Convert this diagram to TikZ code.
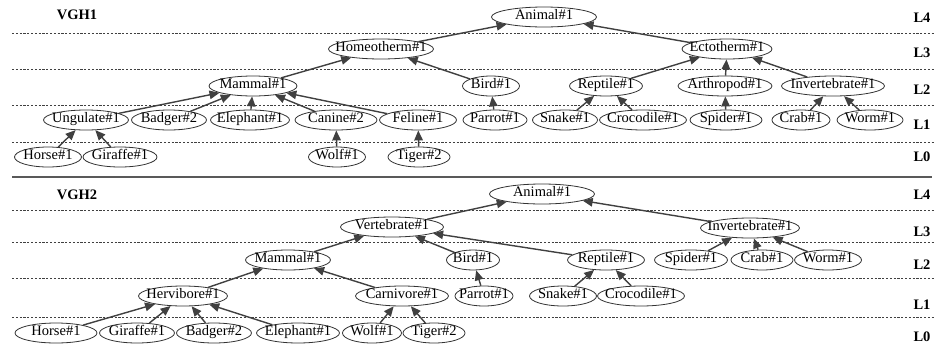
\documentclass[tikz,border=0pt]{standalone}
\usepackage{fontspec}
\setmainfont{Liberation Serif}
\usetikzlibrary{shapes.geometric,arrows.meta}

\tikzset{
  tax/.style={ellipse, draw=black!80, line width=.8pt, fill=white, inner xsep=-15pt, inner ysep=0pt,
    minimum height=20pt, text height=.68em, text depth=.18em, font=\fontsize{14.5}{17}\selectfont},
  isa/.style={draw=black!75, line width=1.4pt, -{Triangle[length=10pt,width=8.5pt]}},
  lvl/.style={font=\fontsize{14.5}{17}\selectfont\bfseries},
  lvlline/.style={draw=black!75, line width=.8pt, dash pattern=on 2.2pt off 1.6pt},
}

\begin{document}
\begin{tikzpicture}[x=1pt,y=-1pt]
\useasboundingbox (0,0) rectangle (935,346);
% level lines and names
\foreach \y in {33,69,105,142,210,242,278,317} \draw[lvlline] (12,\y) -- (935,\y);
\draw[black!65, line width=2pt] (12,177) -- (932,177);
\foreach \y/\t [count=\i] in {18/L4,53/L3,90/L2,125/L1,157/L0,195/L4,232/L3,265/L2,305/L1,337/L0}
  \node[lvl] (lab\i) at (922,\y) {\t};
\node[lvl] (vgha) at (77,15) {VGH1};
\node[lvl] (vghb) at (77,195) {VGH2};

% VGH1
\node[tax, minimum width=105pt] (aanimal) at (544,17) {Animal\#1};
\node[tax, minimum width=105pt] (ahomeo) at (381,49) {Homeotherm\#1};
\node[tax, minimum width=90pt] (aecto) at (727,49) {Ectotherm\#1};
\node[tax, minimum width=88pt] (amammal) at (253,86) {Mammal\#1};
\node[tax, minimum width=57pt] (abird) at (491,86) {Bird\#1};
\node[tax, minimum width=73pt] (areptile) at (606,86) {Reptile\#1};
\node[tax, minimum width=94pt] (aarthro) at (725,86) {Arthropod\#1};
\node[tax, minimum width=103pt] (ainvert) at (833,86) {Invertebrate\#1};
\node[tax, minimum width=85pt] (aungul) at (86,120) {Ungulate\#1};
\node[tax, minimum width=75pt] (abadger) at (169,120) {Badger\#2};
\node[tax, minimum width=79pt] (aeleph) at (250,120) {Elephant\#1};
\node[tax, minimum width=82pt] (acanine) at (336,120) {Canine\#2};
\node[tax, minimum width=77pt] (afeline) at (418,120) {Feline\#1};
\node[tax, minimum width=64pt] (aparrot) at (495,120) {Parrot\#1};
\node[tax, minimum width=65pt] (asnake) at (565,120) {Snake\#1};
\node[tax, minimum width=87pt] (acroc) at (643,120) {Crocodile\#1};
\node[tax, minimum width=72pt] (aspider) at (726,120) {Spider\#1};
\node[tax, minimum width=58pt] (acrab) at (801,120) {Crab\#1};
\node[tax, minimum width=66pt] (aworm) at (870,120) {Worm\#1};
\node[tax, minimum width=67pt] (ahorse) at (48,157) {Horse\#1};
\node[tax, minimum width=74pt] (agiraffe) at (120,157) {Giraffe\#1};
\node[tax, minimum width=57pt] (awolf) at (337,157) {Wolf\#1};
\node[tax, minimum width=62pt] (atiger) at (419,157) {Tiger\#2};

\foreach \c/\p in {ahorse/aungul,agiraffe/aungul,aungul/amammal,abadger/amammal,aeleph/amammal,
  acanine/amammal,afeline/amammal,awolf/acanine,atiger/afeline,amammal/ahomeo,abird/ahomeo,
  aparrot/abird,ahomeo/aanimal,asnake/areptile,acroc/areptile,areptile/aecto,aspider/aarthro,
  aarthro/aecto,acrab/ainvert,aworm/ainvert,ainvert/aecto,aecto/aanimal}
  \draw[isa] (\c) -- (\p);

% VGH2
\node[tax, minimum width=105pt] (banimal) at (542,194) {Animal\#1};
\node[tax, minimum width=103pt] (bvert) at (392,227) {Vertebrate\#1};
\node[tax, minimum width=99pt] (binvert) at (750,228) {Invertebrate\#1};
\node[tax, minimum width=85pt] (bmammal) at (288,260) {Mammal\#1};
\node[tax, minimum width=53pt] (bbird) at (473,260) {Bird\#1};
\node[tax, minimum width=77pt] (breptile) at (606,260) {Reptile\#1};
\node[tax, minimum width=73pt] (bspider) at (691,260) {Spider\#1};
\node[tax, minimum width=62pt] (bcrab) at (762,260) {Crab\#1};
\node[tax, minimum width=67pt] (bworm) at (828,260) {Worm\#1};
\node[tax, minimum width=89pt] (bherbi) at (183,296) {Hervibore\#1};
\node[tax, minimum width=93pt] (bcarni) at (402,296) {Carnivore\#1};
\node[tax, minimum width=58pt] (bparrot) at (484,296) {Parrot\#1};
\node[tax, minimum width=67pt] (bsnake) at (563,296) {Snake\#1};
\node[tax, minimum width=87pt] (bcroc) at (641,296) {Crocodile\#1};
\node[tax, minimum width=82pt] (bhorse) at (56,333) {Horse\#1};
\node[tax, minimum width=75pt] (bgiraffe) at (137,333) {Giraffe\#1};
\node[tax, minimum width=75pt] (bbadger) at (214,333) {Badger\#2};
\node[tax, minimum width=83pt] (beleph) at (298,333) {Elephant\#1};
\node[tax, minimum width=59pt] (bwolf) at (372,333) {Wolf\#1};
\node[tax, minimum width=62pt] (btiger) at (434,333) {Tiger\#2};

\foreach \c/\p in {bhorse/bherbi,bgiraffe/bherbi,bbadger/bherbi,beleph/bherbi,bherbi/bmammal,
  bwolf/bcarni,btiger/bcarni,bcarni/bmammal,bmammal/bvert,bparrot/bbird,bbird/bvert,
  bsnake/breptile,bcroc/breptile,breptile/bvert,bvert/banimal,bspider/binvert,bcrab/binvert,
  bworm/binvert,binvert/banimal}
  \draw[isa] (\c) -- (\p);
\end{tikzpicture}
\end{document}
